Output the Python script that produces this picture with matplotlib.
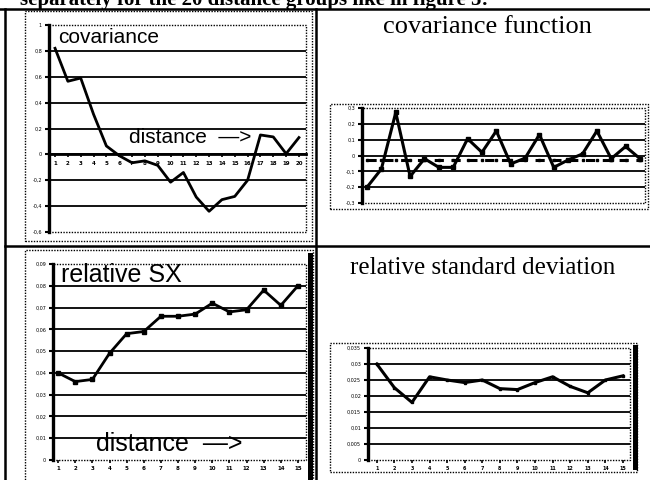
import matplotlib
matplotlib.use("Agg")
import matplotlib.pyplot as plt
from matplotlib.lines import Line2D
from matplotlib.patches import Rectangle

# data
cov_dist = list(range(1, 21))
cov_vals = [0.82, 0.565, 0.59, 0.31, 0.065, -0.01, -0.065, -0.05, -0.085, -0.215,
            -0.14, -0.33, -0.44, -0.35, -0.325, -0.2, 0.15, 0.135, 0.005, 0.13]
cov_yticks = [-0.6, -0.4, -0.2, 0, 0.2, 0.4, 0.6, 0.8, 1]
cov_ylabels = ["-0,6", "-0,4", "-0,2", "0", "0,2", "0,4", "0,6", "0,8", "1"]

covf_dist = list(range(1, 21))
covf_vals = [-0.2, -0.085, 0.272, -0.132, -0.02, -0.075, -0.075, 0.106, 0.02, 0.155,
             -0.053, -0.017, 0.132, -0.075, -0.028, 0.01, 0.155, -0.02, 0.057, -0.02]
covf_mean = -0.03
covf_yticks = [-0.3, -0.2, -0.1, 0, 0.1, 0.2, 0.3]
covf_ylabels = ["-0,3", "-0,2", "-0,1", "0", "0,1", "0,2", "0,3"]

sx_dist = list(range(1, 16))
sx_vals = [0.040, 0.036, 0.037, 0.049, 0.058, 0.059, 0.066, 0.066, 0.067, 0.072,
           0.068, 0.069, 0.078, 0.071, 0.080]
sx_yticks = [0, 0.01, 0.02, 0.03, 0.04, 0.05, 0.06, 0.07, 0.08, 0.09]
sx_ylabels = ["0", "0,01", "0,02", "0,03", "0,04", "0,05", "0,06", "0,07", "0,08", "0,09"]

rsd_dist = list(range(1, 16))
rsd_vals = [0.030, 0.0226, 0.018, 0.026, 0.025, 0.0242, 0.025, 0.0223, 0.022, 0.0242,
            0.026, 0.023, 0.021, 0.025, 0.0263]
rsd_yticks = [0, 0.005, 0.01, 0.015, 0.02, 0.025, 0.03, 0.035]
rsd_ylabels = ["0", "0,005", "0,01", "0,015", "0,02", "0,025", "0,03", "0,035"]

W, H = 650, 480
fig = plt.figure(figsize=(6.5, 4.8), dpi=100)


def px_axes(l, t, r, b):
    return fig.add_axes([l / W, 1 - b / H, (r - l) / W, (b - t) / H])


def fig_line(x0, y0, x1, y1, lw=1.6, ls="-"):
    fig.add_artist(Line2D([x0 / W, x1 / W], [1 - y0 / H, 1 - y1 / H],
                          color="black", lw=lw, ls=ls, transform=fig.transFigure))


def fig_box(l, t, r, b, lw=1.0):
    fig.add_artist(Rectangle((l / W, 1 - b / H), (r - l) / W, (b - t) / H,
                             fill=False, ec="black", lw=lw, ls=(0, (1, 1)),
                             transform=fig.transFigure))


def style(ax, yticks, ylabels, ylim, xlim):
    for s in ("top", "right", "bottom"):
        ax.spines[s].set_visible(False)
    ax.spines["left"].set_linewidth(2.4)
    ax.add_patch(Rectangle((0, 0), 1, 1, transform=ax.transAxes, fill=False,
                           ec="black", lw=1.0, ls=(0, (1, 1)), clip_on=False))
    ax.set_ylim(*ylim)
    ax.set_xlim(*xlim)
    ax.set_yticks(yticks)
    ax.set_yticklabels(ylabels)
    ax.tick_params(axis="y", direction="out", length=3, width=1.5, labelsize=3.5, pad=2)
    for yv in yticks[1:-1]:
        ax.axhline(yv, color="black", lw=1.3, zorder=1)
    ax.set_facecolor("none")


# table / page lines (heading is cut by the top edge, as in the scan)
fig.text(20 / W, 1 - 5 / H, "separately for the 20 distance groups like in figure 5:",
         fontsize=15, family="Liberation Serif", weight="bold", va="baseline")
fig_line(0, 9, W, 9, lw=1.8)
fig_line(5, 9, 5, H, lw=1.8)
fig_line(315.5, 9, 315.5, H, lw=1.8)
fig_line(5, 245.5, W, 245.5, lw=1.8)

# chart frames
fig_box(25, 11, 312, 241)
fig_box(330, 104, 648, 209)
fig_box(25, 250, 313, 482)
fig_box(330, 343, 637, 472)
fig.add_artist(Rectangle((308 / W, 1 - 480 / H), 5 / W, 227 / H, fc="black", ec="none",
                         transform=fig.transFigure))
fig.add_artist(Rectangle((633 / W, 1 - 470 / H), 4.5 / W, 125 / H, fc="black", ec="none",
                         transform=fig.transFigure))

# top left: covariance
ax1 = px_axes(49, 25, 306, 232)
style(ax1, cov_yticks, cov_ylabels, (-0.6, 1.0), (0.53, 20.55))
ax1.spines["bottom"].set_visible(True)
ax1.spines["bottom"].set_position(("data", 0))
ax1.spines["bottom"].set_linestyle((0, (1, 1)))
ax1.spines["bottom"].set_linewidth(2.0)
ax1.set_xticks(cov_dist)
ax1.set_xticklabels([str(d) for d in cov_dist], fontsize=4, weight="bold")
ax1.tick_params(axis="x", direction="out", length=2, width=1.2, pad=3)
ax1.plot(cov_dist, cov_vals, color="black", lw=2.0, zorder=3)
ax1.text(0.035, 0.985, "covariance", transform=ax1.transAxes, fontsize=15,
         family="Liberation Sans", va="top", ha="left")
ax1.text(0.31, 0.455, "distance  \u2014>", transform=ax1.transAxes, fontsize=15,
         family="Liberation Sans", va="center", ha="left")

# top right: covariance function
fig.text(487 / W, 1 - 27 / H, "covariance function", fontsize=19,
         family="Liberation Serif", ha="center", va="center")
ax2 = px_axes(362, 108, 645, 203)
style(ax2, covf_yticks, covf_ylabels, (-0.3, 0.3), (0.65, 20.35))
ax2.set_xticks([])
ax2.plot(covf_dist, [covf_mean] * len(covf_dist), color="black", lw=2.2,
         ls=(0, (3, 2.5)), marker="s", ms=2, zorder=2)
ax2.plot(covf_dist, covf_vals, color="black", lw=2.2, marker="s", ms=2.5, zorder=3)

# bottom left: relative SX
ax3 = px_axes(53, 264, 306, 460)
style(ax3, sx_yticks, sx_ylabels, (0, 0.09), (0.7, 15.47))
ax3.set_xticks(sx_dist)
ax3.set_xticklabels([str(d) for d in sx_dist], fontsize=4, weight="bold")
ax3.tick_params(axis="x", direction="out", length=2, width=1.2, pad=2)
ax3.plot(sx_dist, sx_vals, color="black", lw=2.0, marker="s", ms=2.5, zorder=3)
ax3.text(0.03, 1.005, "relative SX", transform=ax3.transAxes, fontsize=18,
         family="Liberation Sans", va="top", ha="left")
ax3.text(0.17, 0.08, "distance  \u2014>", transform=ax3.transAxes, fontsize=18,
         family="Liberation Sans", va="center", ha="left")

# bottom right: relative standard deviation
fig.text(483 / W, 1 - 268 / H, "relative standard deviation", fontsize=18,
         family="Liberation Serif", ha="center", va="center")
ax4 = px_axes(368, 348, 630, 460)
style(ax4, rsd_yticks, rsd_ylabels, (0, 0.035), (0.5, 15.4))
ax4.set_xticks(rsd_dist)
ax4.set_xticklabels([str(d) for d in rsd_dist], fontsize=3.5, weight="bold")
ax4.tick_params(axis="x", direction="out", length=2, width=1.2, pad=2)
ax4.plot(rsd_dist, rsd_vals, color="black", lw=2.2, marker="s", ms=2, zorder=3)

fig.savefig("out.png", dpi=100)
